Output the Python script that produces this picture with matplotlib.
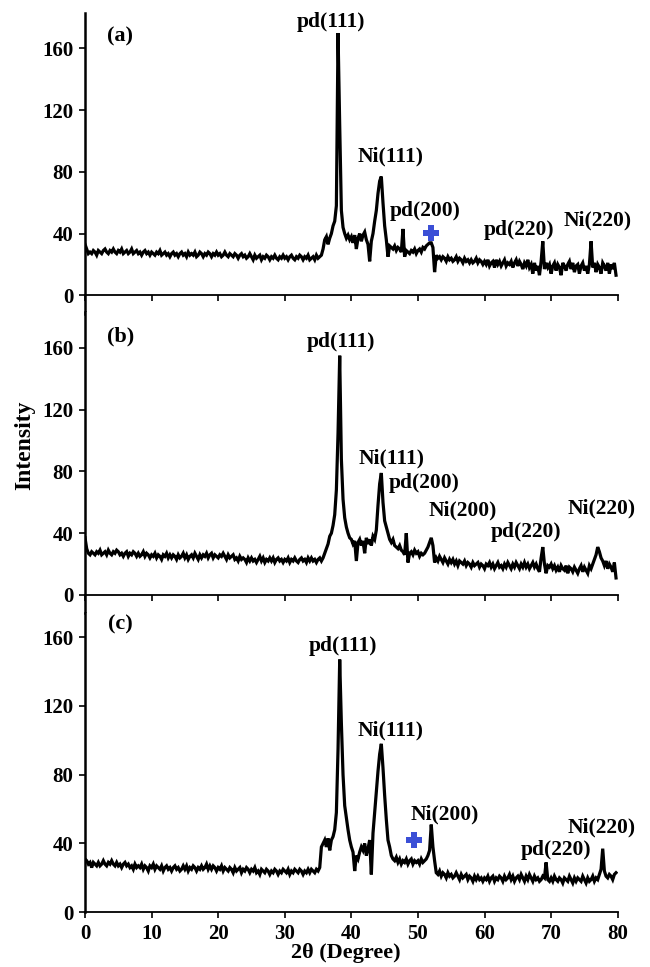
import numpy as np
import matplotlib
matplotlib.use("Agg")
import matplotlib.pyplot as plt

plt.rcParams['font.family'] = ['Liberation Serif', 'DejaVu Serif']
plt.rcParams['font.weight'] = 'bold'

# XRD intensities, one value every 0.25 degree from 0
intensity_a = [
    33, 30, 27, 28, 27, 29, 28, 26, 29, 28, 27, 29, 30, 28, 27, 29, 28, 30, 28, 27,
    29, 28, 30, 27, 28, 29, 27, 28, 30, 27, 28, 29, 27, 28, 26, 28, 29, 27, 28, 26,
    28, 27, 26, 28, 27, 29, 26, 27, 28, 26, 27, 25, 27, 28, 26, 27, 25, 27, 28, 26,
    27, 25, 28, 26, 27, 26, 28, 25, 26, 28, 27, 25, 27, 26, 28, 27, 25, 27, 26, 28,
    26, 27, 25, 26, 28, 26, 25, 27, 26, 25, 27, 26, 24, 26, 27, 25, 26, 24, 25, 27,
    25, 23, 26, 24, 25, 26, 23, 25, 24, 26, 25, 23, 25, 24, 26, 24, 23, 25, 24, 26,
    24, 25, 23, 25, 26, 24, 23, 25, 24, 26, 25, 23, 25, 24, 26, 23, 24, 25, 23, 26,
    24, 25, 26, 30, 36, 38, 33, 37, 40, 45, 48, 58, 170, 110, 55, 44, 40, 37, 39, 36,
    38, 34, 39, 30, 37, 40, 35, 39, 41, 36, 33, 22, 35, 40, 48, 55, 66, 74, 77, 60,
    45, 36, 25, 32, 31, 30, 32, 29, 31, 30, 28, 43, 25, 29, 28, 27, 29, 28, 30, 27,
    29, 30, 28, 31, 30, 32, 33, 34, 34, 31, 15, 26, 24, 25, 23, 25, 24, 22, 25, 23,
    24, 22, 23, 25, 22, 24, 23, 21, 24, 22, 23, 21, 23, 21, 22, 24, 21, 23, 22, 20,
    22, 20, 23, 19, 21, 22, 18, 23, 20, 22, 19, 21, 23, 19, 21, 20, 22, 18, 21, 23,
    19, 22, 20, 17, 21, 19, 23, 18, 20, 14, 21, 16, 19, 13, 22, 35, 17, 21, 18, 20,
    14, 19, 21, 16, 20, 18, 13, 21, 19, 16, 20, 22, 17, 21, 15, 19, 20, 14, 19, 21,
    16, 19, 14, 20, 35, 18, 21, 15, 20, 18, 14, 21, 19, 16, 21, 14, 20, 17, 21, 13,
]

intensity_b = [
    37, 30, 27, 26, 28, 27, 26, 28, 27, 29, 26, 27, 28, 26, 29, 27, 26, 28, 27, 29,
    28, 26, 27, 25, 27, 28, 25, 27, 26, 28, 27, 25, 27, 25, 26, 28, 25, 27, 26, 24,
    26, 25, 27, 24, 26, 25, 23, 26, 25, 27, 24, 26, 24, 26, 25, 23, 26, 24, 25, 27,
    24, 26, 23, 25, 26, 24, 27, 25, 23, 26, 24, 26, 25, 27, 24, 26, 27, 24, 26, 25,
    24, 26, 25, 27, 25, 23, 26, 24, 25, 26, 23, 24, 22, 25, 23, 24, 23, 21, 24, 22,
    24, 22, 23, 21, 23, 25, 22, 24, 21, 23, 22, 24, 22, 24, 21, 23, 24, 22, 23, 21,
    23, 22, 24, 21, 23, 22, 24, 22, 21, 23, 24, 22, 23, 21, 24, 22, 24, 22, 23, 21,
    23, 24, 22, 24, 27, 30, 33, 38, 40, 45, 52, 68, 105, 155, 88, 62, 50, 44, 40, 37,
    36, 33, 35, 22, 34, 36, 32, 35, 27, 37, 33, 36, 32, 38, 36, 42, 58, 72, 79, 60,
    48, 44, 40, 36, 34, 36, 32, 31, 30, 32, 29, 28, 26, 40, 21, 27, 28, 26, 29, 27,
    28, 25, 27, 26, 27, 29, 31, 34, 37, 32, 21, 24, 22, 25, 23, 21, 24, 22, 20, 23,
    21, 23, 20, 22, 19, 22, 21, 20, 22, 19, 21, 20, 18, 21, 19, 20, 21, 18, 20, 19,
    17, 20, 19, 21, 18, 20, 17, 19, 21, 18, 19, 17, 20, 18, 21, 19, 17, 20, 18, 21,
    19, 17, 20, 18, 21, 18, 20, 17, 19, 21, 18, 20, 17, 15, 24, 31, 20, 14, 19, 18,
    20, 17, 19, 16, 18, 15, 19, 17, 16, 19, 14, 18, 17, 15, 18, 16, 14, 17, 19, 15,
    18, 16, 14, 19, 17, 20, 23, 26, 31, 28, 24, 22, 19, 22, 17, 20, 18, 15, 21, 11,
]

intensity_c = [
    31, 30, 28, 29, 26, 29, 28, 27, 29, 27, 28, 30, 28, 27, 29, 28, 30, 28, 27, 29,
    27, 28, 26, 28, 29, 27, 28, 26, 27, 25, 28, 26, 27, 26, 28, 25, 27, 26, 24, 27,
    26, 28, 25, 27, 26, 25, 27, 24, 26, 27, 25, 26, 24, 26, 27, 25, 26, 24, 25, 27,
    25, 27, 24, 26, 25, 27, 26, 24, 26, 25, 27, 25, 26, 28, 25, 27, 25, 27, 26, 24,
    26, 25, 27, 24, 26, 25, 24, 26, 25, 23, 26, 24, 25, 26, 23, 25, 24, 26, 25, 23,
    25, 24, 26, 23, 24, 22, 25, 24, 23, 25, 24, 22, 24, 23, 25, 24, 22, 24, 23, 25,
    24, 23, 25, 22, 24, 23, 25, 24, 23, 25, 24, 22, 24, 23, 25, 23, 25, 24, 23, 25,
    24, 26, 38, 40, 42, 38, 43, 36, 42, 44, 48, 58, 95, 147, 110, 80, 62, 55, 48, 42,
    38, 35, 24, 33, 31, 35, 38, 36, 40, 33, 37, 42, 22, 46, 58, 70, 82, 92, 98, 84,
    68, 54, 42, 38, 33, 31, 30, 32, 29, 31, 28, 30, 29, 31, 28, 30, 31, 28, 30, 29,
    30, 28, 31, 29, 30, 31, 33, 36, 51, 38, 30, 23, 22, 24, 21, 23, 22, 20, 23, 21,
    22, 20, 21, 23, 21, 19, 22, 20, 21, 22, 19, 21, 20, 18, 21, 19, 21, 19, 20, 18,
    20, 19, 21, 18, 20, 21, 18, 20, 19, 21, 20, 18, 21, 19, 20, 22, 19, 21, 18, 20,
    21, 19, 22, 20, 18, 21, 19, 22, 20, 18, 21, 19, 20, 18, 19, 21, 20, 29, 19, 18,
    20, 18, 21, 19, 18, 20, 19, 17, 20, 19, 18, 21, 19, 17, 20, 18, 20, 19, 18, 21,
    19, 17, 20, 18, 19, 21, 18, 20, 19, 22, 25, 37, 24, 21, 20, 22, 21, 19, 22, 23,
]

step = 0.25  # degree between two readings

# peak labels: (text, 2theta, intensity)
peaks_a = [("pd(111)", 37.0, 177), ("Ni(111)", 45.9, 90), ("pd(200)", 51.1, 54.6),
           ("pd(220)", 65.2, 42), ("Ni(220)", 77.0, 48.6)]
peaks_b = [("pd(111)", 38.5, 164), ("Ni(111)", 46.0, 88.5), ("pd(200)", 50.9, 72.3),
           ("Ni(200)", 56.8, 54.6), ("pd(220)", 66.3, 41), ("Ni(220)", 77.6, 56)]
peaks_c = [("pd(111)", 38.8, 155), ("Ni(111)", 45.9, 105.7), ("Ni(200)", 54.0, 57),
           ("pd(220)", 70.7, 36), ("Ni(220)", 77.6, 49.6)]

cross_a = (52.0, 40.3)
cross_c = (49.4, 42.2)

y_ticks = [0, 40, 80, 120, 160]
x_ticks = [0, 10, 20, 30, 40, 50, 60, 70, 80]

fig = plt.figure(figsize=(6.5, 9.67), dpi=100)
ax_a = fig.add_axes([0.1308, 0.6755, 0.8195, 0.3111])
ax_b = fig.add_axes([0.1308, 0.3656, 0.8195, 0.3113])
ax_c = fig.add_axes([0.1308, 0.0566, 0.8195, 0.3090])

panels = [
    (ax_a, intensity_a, peaks_a, "(a)", (-12, 183)),
    (ax_b, intensity_b, peaks_b, "(b)", (-12, 183)),
    (ax_c, intensity_c, peaks_c, "(c)", (0, 173.8)),
]

for ax, y, peaks, tag, ylim in panels:
    x = step * np.arange(len(y))
    ax.plot(x, y, color="black", lw=2.3, solid_joinstyle="miter")
    ax.set_xlim(0, 80)
    ax.set_ylim(*ylim)
    ax.set_xticks(x_ticks)
    ax.set_yticks(y_ticks)
    for s in ["top", "right"]:
        ax.spines[s].set_visible(False)
    ax.spines["left"].set_linewidth(1.8)
    ax.spines["bottom"].set_linewidth(1.3)
    ax.spines["bottom"].set_position(("data", 0))
    ax.tick_params(direction="out", length=4.5, width=1.2, labelsize=15, pad=4)
    for txt, px, py in peaks:
        ax.text(px, py, txt, fontsize=15.5, fontweight="bold", ha="center", va="center")
    ax.text(5.3, 167.5, tag, fontsize=16, fontweight="bold", ha="center", va="center")

ax_a.tick_params(axis="x", labelbottom=False)
ax_b.tick_params(axis="x", labelbottom=False)

for ax, (cx, cy) in [(ax_a, cross_a), (ax_c, cross_c)]:
    ax.plot(cx, cy, marker="P", markersize=12, color="#3b4fd6", markeredgewidth=0)

fig.text(25 / 650, 1 - 445 / 967, "Intensity", rotation=90, fontsize=17,
         fontweight="bold", ha="center", va="center")
fig.text(346 / 650, 1 - 953 / 967, "2θ (Degree)", fontsize=16,
         fontweight="bold", ha="center", va="center")

fig.savefig("out.png", dpi=100)
